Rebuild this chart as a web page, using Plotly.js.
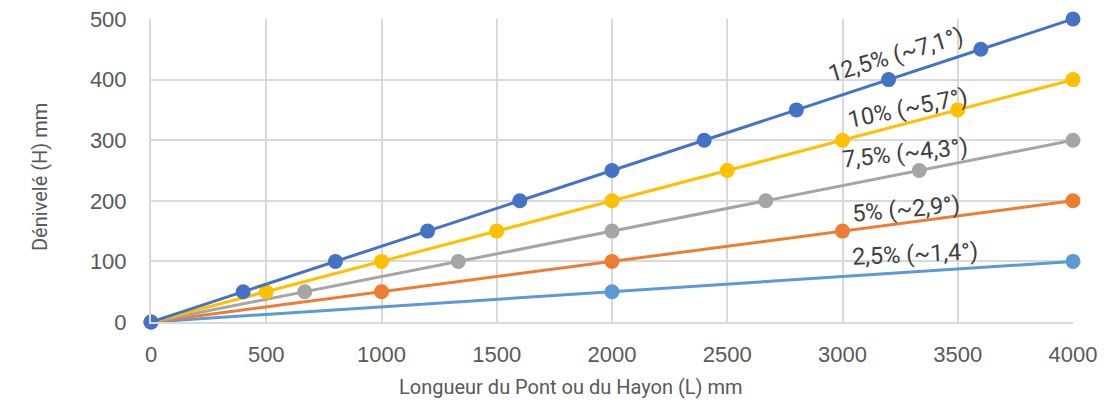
<!DOCTYPE html>
<html>
<head>
<meta charset="utf-8">
<script src="https://cdn.plot.ly/plotly-3.0.1.min.js"></script>
<style>html,body{margin:0;padding:0;background:#fff;}#chart{width:1118px;height:405px;}</style>
</head>
<body>
<div id="chart"></div>
<script>
// Data (L in mm, H in mm)
const L_125 = [0, 400, 800, 1200, 1600, 2000, 2400, 2800, 3200, 3600, 4000];
const H_125 = [0, 50, 100, 150, 200, 250, 300, 350, 400, 450, 500];
const L_10 = [0, 500, 1000, 1500, 2000, 2500, 3000, 3500, 4000];
const H_10 = [0, 50, 100, 150, 200, 250, 300, 350, 400];
const L_75 = [0, 667, 1333, 2000, 2667, 3333, 4000];
const H_75 = [0, 50, 100, 150, 200, 250, 300];
const L_5 = [0, 1000, 2000, 3000, 4000];
const H_5 = [0, 50, 100, 150, 200];
const L_25 = [0, 2000, 4000];
const H_25 = [0, 50, 100];

const seriesLabels = ["2,5% (~1,4°)", "5% (~2,9°)", "7,5% (~4,3°)", "10% (~5,7°)", "12,5% (~7,1°)"];
const labelX = [3315, 3275, 3271, 3284, 3228];
const labelY = [112, 186, 279, 353, 441];
const labelAngle = [-2.5, -5, -6, -11.5, -16.5];

const xTicks = [0, 500, 1000, 1500, 2000, 2500, 3000, 3500, 4000];
const yTicks = [0, 100, 200, 300, 400, 500];
const xTitle = "Longueur du Pont ou du Hayon (L) mm";
const yTitle = "Dénivelé (H) mm";

const colors = ["#5B9BD5", "#ED7D31", "#A5A5A5", "#FFC000", "#4472C4"];
const xs = [L_25, L_5, L_75, L_10, L_125];
const ys = [H_25, H_5, H_75, H_10, H_125];

const traces = xs.map((x, i) => ({
  x: x, y: ys[i], type: 'scatter', mode: 'lines+markers',
  line: {color: colors[i], width: 3},
  marker: {color: colors[i], size: 15},
  cliponaxis: false,
  showlegend: false,
  hoverinfo: 'x+y'
}));

const annotations = seriesLabels.map((t, i) => ({
  x: labelX[i], y: labelY[i], xref: 'x', yref: 'y',
  text: t, showarrow: false, textangle: labelAngle[i],
  xanchor: 'center', yanchor: 'middle',
  font: {family: 'Roboto, sans-serif', size: 23.5, color: '#404040'}
}));
annotations.push({
  xref: 'paper', yref: 'paper', x: 0.4555, y: -0.215,
  text: xTitle, showarrow: false, xanchor: 'center', yanchor: 'middle',
  font: {family: 'Roboto, sans-serif', size: 20, color: '#595959'}
});
annotations.push({
  xref: 'paper', yref: 'paper', x: -0.1204, y: 0.4785,
  text: yTitle, showarrow: false, xanchor: 'center', yanchor: 'middle', textangle: -90,
  font: {family: 'Roboto, sans-serif', size: 20, color: '#595959'}
});

const layout = {
  width: 1118, height: 405,
  margin: {l: 151, r: 45, t: 19, b: 83},
  paper_bgcolor: '#ffffff', plot_bgcolor: '#ffffff',
  font: {family: 'Liberation Sans, Arial, sans-serif', size: 22, color: '#595959'},
  xaxis: {
    range: [0, 4000], tickvals: xTicks, ticktext: xTicks.map(String),
    showgrid: true, gridcolor: '#d9d9d9', gridwidth: 2,
    showline: true, linecolor: '#d9d9d9', linewidth: 2,
    zeroline: false, ticks: '', ticklabelstandoff: 12,
    tickfont: {family: 'Liberation Sans, Arial, sans-serif', size: 22, color: '#595959'},
    fixedrange: true
  },
  yaxis: {
    range: [0, 500], tickvals: yTicks, ticktext: yTicks.map(String),
    showgrid: true, gridcolor: '#d9d9d9', gridwidth: 2,
    showline: true, linecolor: '#d9d9d9', linewidth: 2,
    zeroline: false, ticks: '', ticklabelstandoff: 18,
    tickfont: {family: 'Liberation Sans, Arial, sans-serif', size: 22, color: '#595959'},
    fixedrange: true
  },
  annotations: annotations
};

Plotly.newPlot('chart', traces, layout, {displayModeBar: false, staticPlot: true});
</script>
</body>
</html>
